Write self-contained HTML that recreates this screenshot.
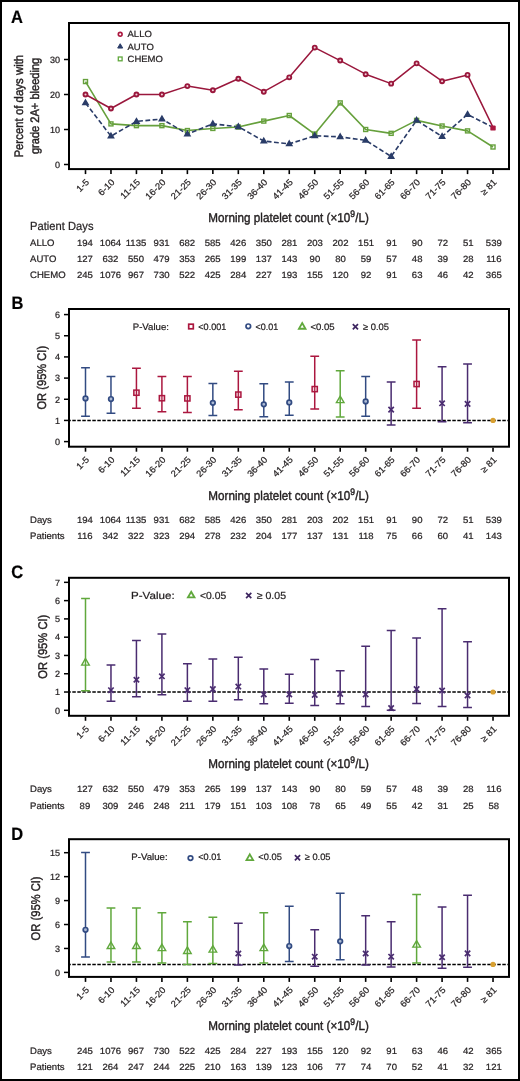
<!DOCTYPE html>
<html><head><meta charset="utf-8"><style>
html,body{margin:0;padding:0;background:#fff;}
body{width:520px;height:1081px;overflow:hidden;position:relative;}
svg{position:absolute;left:0;top:0;font-family:"Liberation Sans", sans-serif;will-change:transform;}
text{stroke:#231f20;stroke-width:0.22px;}
</style></head><body>
<svg width="520" height="1081" viewBox="0 0 520 1081">
<rect x="0" y="0" width="520" height="1081" fill="#fff"/>
<text x="0" y="0" transform="translate(11.0 23.2) skewX(0.3) scale(0.92 1)" font-size="18" font-weight="bold" fill="#000">A</text>
<rect x="69.0" y="23" width="440.0" height="146.1" fill="none" stroke="#000" stroke-width="2"/>
<line x1="64.0" y1="164.50" x2="69.0" y2="164.50" stroke="#000" stroke-width="1.5"/>
<text x="0" y="0" transform="translate(60.00 167.75) skewX(0.3) scale(1.0 1)" font-size="9.1" text-anchor="end" fill="#231f20" font-weight="normal" >0</text>
<line x1="64.0" y1="129.50" x2="69.0" y2="129.50" stroke="#000" stroke-width="1.5"/>
<text x="0" y="0" transform="translate(60.00 132.75) skewX(0.3) scale(1.0 1)" font-size="9.1" text-anchor="end" fill="#231f20" font-weight="normal" >10</text>
<line x1="64.0" y1="94.50" x2="69.0" y2="94.50" stroke="#000" stroke-width="1.5"/>
<text x="0" y="0" transform="translate(60.00 97.75) skewX(0.3) scale(1.0 1)" font-size="9.1" text-anchor="end" fill="#231f20" font-weight="normal" >20</text>
<line x1="64.0" y1="59.50" x2="69.0" y2="59.50" stroke="#000" stroke-width="1.5"/>
<text x="0" y="0" transform="translate(60.00 62.75) skewX(0.3) scale(1.0 1)" font-size="9.1" text-anchor="end" fill="#231f20" font-weight="normal" >30</text>
<line x1="85.50" y1="170.1" x2="85.50" y2="174.1" stroke="#000" stroke-width="1.6"/>
<line x1="110.97" y1="170.1" x2="110.97" y2="174.1" stroke="#000" stroke-width="1.6"/>
<line x1="136.44" y1="170.1" x2="136.44" y2="174.1" stroke="#000" stroke-width="1.6"/>
<line x1="161.91" y1="170.1" x2="161.91" y2="174.1" stroke="#000" stroke-width="1.6"/>
<line x1="187.38" y1="170.1" x2="187.38" y2="174.1" stroke="#000" stroke-width="1.6"/>
<line x1="212.85" y1="170.1" x2="212.85" y2="174.1" stroke="#000" stroke-width="1.6"/>
<line x1="238.32" y1="170.1" x2="238.32" y2="174.1" stroke="#000" stroke-width="1.6"/>
<line x1="263.79" y1="170.1" x2="263.79" y2="174.1" stroke="#000" stroke-width="1.6"/>
<line x1="289.26" y1="170.1" x2="289.26" y2="174.1" stroke="#000" stroke-width="1.6"/>
<line x1="314.73" y1="170.1" x2="314.73" y2="174.1" stroke="#000" stroke-width="1.6"/>
<line x1="340.20" y1="170.1" x2="340.20" y2="174.1" stroke="#000" stroke-width="1.6"/>
<line x1="365.67" y1="170.1" x2="365.67" y2="174.1" stroke="#000" stroke-width="1.6"/>
<line x1="391.14" y1="170.1" x2="391.14" y2="174.1" stroke="#000" stroke-width="1.6"/>
<line x1="416.61" y1="170.1" x2="416.61" y2="174.1" stroke="#000" stroke-width="1.6"/>
<line x1="442.08" y1="170.1" x2="442.08" y2="174.1" stroke="#000" stroke-width="1.6"/>
<line x1="467.55" y1="170.1" x2="467.55" y2="174.1" stroke="#000" stroke-width="1.6"/>
<line x1="493.02" y1="170.1" x2="493.02" y2="174.1" stroke="#000" stroke-width="1.6"/>
<text x="0" y="0" font-size="9.1" text-anchor="end" fill="#231f20" transform="translate(89.70 182.80) rotate(-45) scale(1.04 1)">1-5</text>
<text x="0" y="0" font-size="9.1" text-anchor="end" fill="#231f20" transform="translate(115.17 182.80) rotate(-45) scale(1.04 1)">6-10</text>
<text x="0" y="0" font-size="9.1" text-anchor="end" fill="#231f20" transform="translate(140.64 182.80) rotate(-45) scale(1.04 1)">11-15</text>
<text x="0" y="0" font-size="9.1" text-anchor="end" fill="#231f20" transform="translate(166.11 182.80) rotate(-45) scale(1.04 1)">16-20</text>
<text x="0" y="0" font-size="9.1" text-anchor="end" fill="#231f20" transform="translate(191.58 182.80) rotate(-45) scale(1.04 1)">21-25</text>
<text x="0" y="0" font-size="9.1" text-anchor="end" fill="#231f20" transform="translate(217.05 182.80) rotate(-45) scale(1.04 1)">26-30</text>
<text x="0" y="0" font-size="9.1" text-anchor="end" fill="#231f20" transform="translate(242.52 182.80) rotate(-45) scale(1.04 1)">31-35</text>
<text x="0" y="0" font-size="9.1" text-anchor="end" fill="#231f20" transform="translate(267.99 182.80) rotate(-45) scale(1.04 1)">36-40</text>
<text x="0" y="0" font-size="9.1" text-anchor="end" fill="#231f20" transform="translate(293.46 182.80) rotate(-45) scale(1.04 1)">41-45</text>
<text x="0" y="0" font-size="9.1" text-anchor="end" fill="#231f20" transform="translate(318.93 182.80) rotate(-45) scale(1.04 1)">46-50</text>
<text x="0" y="0" font-size="9.1" text-anchor="end" fill="#231f20" transform="translate(344.40 182.80) rotate(-45) scale(1.04 1)">51-55</text>
<text x="0" y="0" font-size="9.1" text-anchor="end" fill="#231f20" transform="translate(369.87 182.80) rotate(-45) scale(1.04 1)">56-60</text>
<text x="0" y="0" font-size="9.1" text-anchor="end" fill="#231f20" transform="translate(395.34 182.80) rotate(-45) scale(1.04 1)">61-65</text>
<text x="0" y="0" font-size="9.1" text-anchor="end" fill="#231f20" transform="translate(420.81 182.80) rotate(-45) scale(1.04 1)">66-70</text>
<text x="0" y="0" font-size="9.1" text-anchor="end" fill="#231f20" transform="translate(446.28 182.80) rotate(-45) scale(1.04 1)">71-75</text>
<text x="0" y="0" font-size="9.1" text-anchor="end" fill="#231f20" transform="translate(471.75 182.80) rotate(-45) scale(1.04 1)">76-80</text>
<text x="0" y="0" font-size="9.1" text-anchor="end" fill="#231f20" transform="translate(497.22 182.80) rotate(-45) scale(1.04 1)">≥ 81</text>
<text style="stroke-width:0.42px" font-size="12.4" fill="#231f20" text-anchor="middle" transform="translate(23.0 106.2) rotate(-90) skewX(0.3)" x="0" y="0" textLength="102.8" lengthAdjust="spacingAndGlyphs">Percent of days with</text>
<text style="stroke-width:0.42px" font-size="12.4" fill="#231f20" text-anchor="middle" transform="translate(38.5 105.9) rotate(-90) skewX(0.3)" x="0" y="0" textLength="96.3" lengthAdjust="spacingAndGlyphs">grade 2A+ bleeding</text>
<polyline points="85.50,81.55 110.97,123.90 136.44,125.65 161.91,125.65 187.38,130.55 212.85,128.45 238.32,127.05 263.79,121.10 289.26,115.50 314.73,134.05 340.20,102.90 365.67,129.50 391.14,133.35 416.61,120.40 442.08,126.00 467.55,130.90 493.02,147.00" fill="none" stroke="#66a03c" stroke-width="1.6" stroke-linejoin="round"/>
<polyline points="85.50,102.90 110.97,136.15 136.44,121.45 161.91,119.00 187.38,134.05 212.85,123.90 238.32,126.70 263.79,141.05 289.26,143.85 314.73,135.80 340.20,136.85 365.67,140.35 391.14,156.45 416.61,120.40 442.08,136.50 467.55,114.45 493.02,127.40" fill="none" stroke="#2a3c68" stroke-width="1.6" stroke-dasharray="4.8 2.5" stroke-linejoin="round"/>
<polyline points="85.50,94.50 110.97,108.50 136.44,94.50 161.91,94.50 187.38,86.10 212.85,90.30 238.32,78.75 263.79,91.70 289.26,77.35 314.73,47.60 340.20,60.55 365.67,74.20 391.14,83.65 416.61,63.35 442.08,81.20 467.55,74.90 493.02,127.40" fill="none" stroke="#9a173c" stroke-width="1.5" stroke-linejoin="round"/>
<rect x="83.50" y="79.55" width="4.0" height="4.0" fill="none" stroke="#66a03c" stroke-width="1.4"/>
<rect x="108.97" y="121.90" width="4.0" height="4.0" fill="none" stroke="#66a03c" stroke-width="1.4"/>
<rect x="134.44" y="123.65" width="4.0" height="4.0" fill="none" stroke="#66a03c" stroke-width="1.4"/>
<rect x="159.91" y="123.65" width="4.0" height="4.0" fill="none" stroke="#66a03c" stroke-width="1.4"/>
<rect x="185.38" y="128.55" width="4.0" height="4.0" fill="none" stroke="#66a03c" stroke-width="1.4"/>
<rect x="210.85" y="126.45" width="4.0" height="4.0" fill="none" stroke="#66a03c" stroke-width="1.4"/>
<rect x="236.32" y="125.05" width="4.0" height="4.0" fill="none" stroke="#66a03c" stroke-width="1.4"/>
<rect x="261.79" y="119.10" width="4.0" height="4.0" fill="none" stroke="#66a03c" stroke-width="1.4"/>
<rect x="287.26" y="113.50" width="4.0" height="4.0" fill="none" stroke="#66a03c" stroke-width="1.4"/>
<rect x="312.73" y="132.05" width="4.0" height="4.0" fill="none" stroke="#66a03c" stroke-width="1.4"/>
<rect x="338.20" y="100.90" width="4.0" height="4.0" fill="none" stroke="#66a03c" stroke-width="1.4"/>
<rect x="363.67" y="127.50" width="4.0" height="4.0" fill="none" stroke="#66a03c" stroke-width="1.4"/>
<rect x="389.14" y="131.35" width="4.0" height="4.0" fill="none" stroke="#66a03c" stroke-width="1.4"/>
<rect x="414.61" y="118.40" width="4.0" height="4.0" fill="none" stroke="#66a03c" stroke-width="1.4"/>
<rect x="440.08" y="124.00" width="4.0" height="4.0" fill="none" stroke="#66a03c" stroke-width="1.4"/>
<rect x="465.55" y="128.90" width="4.0" height="4.0" fill="none" stroke="#66a03c" stroke-width="1.4"/>
<rect x="491.02" y="145.00" width="4.0" height="4.0" fill="none" stroke="#66a03c" stroke-width="1.4"/>
<path d="M85.50,100.11 L88.10,104.61 L82.90,104.61 Z" fill="#2a3c68" stroke="#2a3c68" stroke-width="1.5" stroke-linejoin="miter"/>
<path d="M110.97,133.36 L113.57,137.86 L108.37,137.86 Z" fill="#2a3c68" stroke="#2a3c68" stroke-width="1.5" stroke-linejoin="miter"/>
<path d="M136.44,118.66 L139.04,123.16 L133.84,123.16 Z" fill="#2a3c68" stroke="#2a3c68" stroke-width="1.5" stroke-linejoin="miter"/>
<path d="M161.91,116.21 L164.51,120.71 L159.31,120.71 Z" fill="#2a3c68" stroke="#2a3c68" stroke-width="1.5" stroke-linejoin="miter"/>
<path d="M187.38,131.26 L189.98,135.76 L184.78,135.76 Z" fill="#2a3c68" stroke="#2a3c68" stroke-width="1.5" stroke-linejoin="miter"/>
<path d="M212.85,121.11 L215.45,125.61 L210.25,125.61 Z" fill="#2a3c68" stroke="#2a3c68" stroke-width="1.5" stroke-linejoin="miter"/>
<path d="M238.32,123.91 L240.92,128.41 L235.72,128.41 Z" fill="#2a3c68" stroke="#2a3c68" stroke-width="1.5" stroke-linejoin="miter"/>
<path d="M263.79,138.26 L266.39,142.76 L261.19,142.76 Z" fill="#2a3c68" stroke="#2a3c68" stroke-width="1.5" stroke-linejoin="miter"/>
<path d="M289.26,141.06 L291.86,145.56 L286.66,145.56 Z" fill="#2a3c68" stroke="#2a3c68" stroke-width="1.5" stroke-linejoin="miter"/>
<path d="M314.73,133.01 L317.33,137.51 L312.13,137.51 Z" fill="#2a3c68" stroke="#2a3c68" stroke-width="1.5" stroke-linejoin="miter"/>
<path d="M340.20,134.06 L342.80,138.56 L337.60,138.56 Z" fill="#2a3c68" stroke="#2a3c68" stroke-width="1.5" stroke-linejoin="miter"/>
<path d="M365.67,137.56 L368.27,142.06 L363.07,142.06 Z" fill="#2a3c68" stroke="#2a3c68" stroke-width="1.5" stroke-linejoin="miter"/>
<path d="M391.14,153.66 L393.74,158.16 L388.54,158.16 Z" fill="#2a3c68" stroke="#2a3c68" stroke-width="1.5" stroke-linejoin="miter"/>
<path d="M416.61,117.61 L419.21,122.11 L414.01,122.11 Z" fill="#2a3c68" stroke="#2a3c68" stroke-width="1.5" stroke-linejoin="miter"/>
<path d="M442.08,133.71 L444.68,138.21 L439.48,138.21 Z" fill="#2a3c68" stroke="#2a3c68" stroke-width="1.5" stroke-linejoin="miter"/>
<path d="M467.55,111.66 L470.15,116.16 L464.95,116.16 Z" fill="#2a3c68" stroke="#2a3c68" stroke-width="1.5" stroke-linejoin="miter"/>
<circle cx="85.50" cy="94.50" r="2.0" fill="#f0d0d8" stroke="#9a173c" stroke-width="1.9"/>
<circle cx="110.97" cy="108.50" r="2.0" fill="#f0d0d8" stroke="#9a173c" stroke-width="1.9"/>
<circle cx="136.44" cy="94.50" r="2.0" fill="#f0d0d8" stroke="#9a173c" stroke-width="1.9"/>
<circle cx="161.91" cy="94.50" r="2.0" fill="#f0d0d8" stroke="#9a173c" stroke-width="1.9"/>
<circle cx="187.38" cy="86.10" r="2.0" fill="#f0d0d8" stroke="#9a173c" stroke-width="1.9"/>
<circle cx="212.85" cy="90.30" r="2.0" fill="#f0d0d8" stroke="#9a173c" stroke-width="1.9"/>
<circle cx="238.32" cy="78.75" r="2.0" fill="#f0d0d8" stroke="#9a173c" stroke-width="1.9"/>
<circle cx="263.79" cy="91.70" r="2.0" fill="#f0d0d8" stroke="#9a173c" stroke-width="1.9"/>
<circle cx="289.26" cy="77.35" r="2.0" fill="#f0d0d8" stroke="#9a173c" stroke-width="1.9"/>
<circle cx="314.73" cy="47.60" r="2.0" fill="#f0d0d8" stroke="#9a173c" stroke-width="1.9"/>
<circle cx="340.20" cy="60.55" r="2.0" fill="#f0d0d8" stroke="#9a173c" stroke-width="1.9"/>
<circle cx="365.67" cy="74.20" r="2.0" fill="#f0d0d8" stroke="#9a173c" stroke-width="1.9"/>
<circle cx="391.14" cy="83.65" r="2.0" fill="#f0d0d8" stroke="#9a173c" stroke-width="1.9"/>
<circle cx="416.61" cy="63.35" r="2.0" fill="#f0d0d8" stroke="#9a173c" stroke-width="1.9"/>
<circle cx="442.08" cy="81.20" r="2.0" fill="#f0d0d8" stroke="#9a173c" stroke-width="1.9"/>
<circle cx="467.55" cy="74.90" r="2.0" fill="#f0d0d8" stroke="#9a173c" stroke-width="1.9"/>
<rect x="490.32" y="125.40" width="5.4" height="5.2" rx="1.2" fill="#ab173f"/>
<circle cx="120.20" cy="34.30" r="1.9" fill="none" stroke="#ab173f" stroke-width="1.6"/>
<path d="M120.20,43.72 L122.70,48.05 L117.70,48.05 Z" fill="#2a3c68" stroke="#2a3c68" stroke-width="1.0" stroke-linejoin="miter"/>
<rect x="118.30" y="57.00" width="3.8" height="3.8" fill="none" stroke="#60a83c" stroke-width="1.3"/>
<text x="0" y="0" transform="translate(127.50 37.30) skewX(0.3) scale(1.06 1)" font-size="9.0" text-anchor="start" fill="#231f20" font-weight="normal" >ALLO</text>
<text x="0" y="0" transform="translate(127.50 49.70) skewX(0.3) scale(1.06 1)" font-size="9.0" text-anchor="start" fill="#231f20" font-weight="normal" >AUTO</text>
<text x="0" y="0" transform="translate(127.50 62.30) skewX(0.3) scale(1.06 1)" font-size="9.0" text-anchor="start" fill="#231f20" font-weight="normal" >CHEMO</text>
<text x="0" y="0" transform="translate(208.3 222.20) skewX(0.3)" style="stroke-width:0.42px" font-size="12.9" fill="#231f20" textLength="160.5" lengthAdjust="spacingAndGlyphs">Morning platelet count (×10<tspan font-size="9.5" dy="-5">9</tspan><tspan dy="5">/L)</tspan></text>
<text x="0" y="0" transform="translate(30.00 230.20) skewX(0.3) scale(0.95 1)" font-size="11.8" text-anchor="start" fill="#231f20" font-weight="normal" >Patient Days</text>
<text x="0" y="0" transform="translate(30.00 246.20) skewX(0.3) scale(1.02 1)" font-size="9.4" text-anchor="start" fill="#231f20" font-weight="normal" >ALLO</text>
<text x="0" y="0" transform="translate(84.90 246.20) skewX(0.3) scale(1.065 1)" font-size="9.0" text-anchor="middle" fill="#231f20" font-weight="normal" >194</text>
<text x="0" y="0" transform="translate(110.46 246.20) skewX(0.3) scale(1.065 1)" font-size="9.0" text-anchor="middle" fill="#231f20" font-weight="normal" >1064</text>
<text x="0" y="0" transform="translate(136.02 246.20) skewX(0.3) scale(1.065 1)" font-size="9.0" text-anchor="middle" fill="#231f20" font-weight="normal" >1135</text>
<text x="0" y="0" transform="translate(161.58 246.20) skewX(0.3) scale(1.065 1)" font-size="9.0" text-anchor="middle" fill="#231f20" font-weight="normal" >931</text>
<text x="0" y="0" transform="translate(187.14 246.20) skewX(0.3) scale(1.065 1)" font-size="9.0" text-anchor="middle" fill="#231f20" font-weight="normal" >682</text>
<text x="0" y="0" transform="translate(212.70 246.20) skewX(0.3) scale(1.065 1)" font-size="9.0" text-anchor="middle" fill="#231f20" font-weight="normal" >585</text>
<text x="0" y="0" transform="translate(238.26 246.20) skewX(0.3) scale(1.065 1)" font-size="9.0" text-anchor="middle" fill="#231f20" font-weight="normal" >426</text>
<text x="0" y="0" transform="translate(263.82 246.20) skewX(0.3) scale(1.065 1)" font-size="9.0" text-anchor="middle" fill="#231f20" font-weight="normal" >350</text>
<text x="0" y="0" transform="translate(289.38 246.20) skewX(0.3) scale(1.065 1)" font-size="9.0" text-anchor="middle" fill="#231f20" font-weight="normal" >281</text>
<text x="0" y="0" transform="translate(314.94 246.20) skewX(0.3) scale(1.065 1)" font-size="9.0" text-anchor="middle" fill="#231f20" font-weight="normal" >203</text>
<text x="0" y="0" transform="translate(340.50 246.20) skewX(0.3) scale(1.065 1)" font-size="9.0" text-anchor="middle" fill="#231f20" font-weight="normal" >202</text>
<text x="0" y="0" transform="translate(366.06 246.20) skewX(0.3) scale(1.065 1)" font-size="9.0" text-anchor="middle" fill="#231f20" font-weight="normal" >151</text>
<text x="0" y="0" transform="translate(391.62 246.20) skewX(0.3) scale(1.065 1)" font-size="9.0" text-anchor="middle" fill="#231f20" font-weight="normal" >91</text>
<text x="0" y="0" transform="translate(417.18 246.20) skewX(0.3) scale(1.065 1)" font-size="9.0" text-anchor="middle" fill="#231f20" font-weight="normal" >90</text>
<text x="0" y="0" transform="translate(442.74 246.20) skewX(0.3) scale(1.065 1)" font-size="9.0" text-anchor="middle" fill="#231f20" font-weight="normal" >72</text>
<text x="0" y="0" transform="translate(468.30 246.20) skewX(0.3) scale(1.065 1)" font-size="9.0" text-anchor="middle" fill="#231f20" font-weight="normal" >51</text>
<text x="0" y="0" transform="translate(493.86 246.20) skewX(0.3) scale(1.065 1)" font-size="9.0" text-anchor="middle" fill="#231f20" font-weight="normal" >539</text>
<text x="0" y="0" transform="translate(30.00 262.10) skewX(0.3) scale(1.02 1)" font-size="9.4" text-anchor="start" fill="#231f20" font-weight="normal" >AUTO</text>
<text x="0" y="0" transform="translate(84.90 262.10) skewX(0.3) scale(1.065 1)" font-size="9.0" text-anchor="middle" fill="#231f20" font-weight="normal" >127</text>
<text x="0" y="0" transform="translate(110.46 262.10) skewX(0.3) scale(1.065 1)" font-size="9.0" text-anchor="middle" fill="#231f20" font-weight="normal" >632</text>
<text x="0" y="0" transform="translate(136.02 262.10) skewX(0.3) scale(1.065 1)" font-size="9.0" text-anchor="middle" fill="#231f20" font-weight="normal" >550</text>
<text x="0" y="0" transform="translate(161.58 262.10) skewX(0.3) scale(1.065 1)" font-size="9.0" text-anchor="middle" fill="#231f20" font-weight="normal" >479</text>
<text x="0" y="0" transform="translate(187.14 262.10) skewX(0.3) scale(1.065 1)" font-size="9.0" text-anchor="middle" fill="#231f20" font-weight="normal" >353</text>
<text x="0" y="0" transform="translate(212.70 262.10) skewX(0.3) scale(1.065 1)" font-size="9.0" text-anchor="middle" fill="#231f20" font-weight="normal" >265</text>
<text x="0" y="0" transform="translate(238.26 262.10) skewX(0.3) scale(1.065 1)" font-size="9.0" text-anchor="middle" fill="#231f20" font-weight="normal" >199</text>
<text x="0" y="0" transform="translate(263.82 262.10) skewX(0.3) scale(1.065 1)" font-size="9.0" text-anchor="middle" fill="#231f20" font-weight="normal" >137</text>
<text x="0" y="0" transform="translate(289.38 262.10) skewX(0.3) scale(1.065 1)" font-size="9.0" text-anchor="middle" fill="#231f20" font-weight="normal" >143</text>
<text x="0" y="0" transform="translate(314.94 262.10) skewX(0.3) scale(1.065 1)" font-size="9.0" text-anchor="middle" fill="#231f20" font-weight="normal" >90</text>
<text x="0" y="0" transform="translate(340.50 262.10) skewX(0.3) scale(1.065 1)" font-size="9.0" text-anchor="middle" fill="#231f20" font-weight="normal" >80</text>
<text x="0" y="0" transform="translate(366.06 262.10) skewX(0.3) scale(1.065 1)" font-size="9.0" text-anchor="middle" fill="#231f20" font-weight="normal" >59</text>
<text x="0" y="0" transform="translate(391.62 262.10) skewX(0.3) scale(1.065 1)" font-size="9.0" text-anchor="middle" fill="#231f20" font-weight="normal" >57</text>
<text x="0" y="0" transform="translate(417.18 262.10) skewX(0.3) scale(1.065 1)" font-size="9.0" text-anchor="middle" fill="#231f20" font-weight="normal" >48</text>
<text x="0" y="0" transform="translate(442.74 262.10) skewX(0.3) scale(1.065 1)" font-size="9.0" text-anchor="middle" fill="#231f20" font-weight="normal" >39</text>
<text x="0" y="0" transform="translate(468.30 262.10) skewX(0.3) scale(1.065 1)" font-size="9.0" text-anchor="middle" fill="#231f20" font-weight="normal" >28</text>
<text x="0" y="0" transform="translate(493.86 262.10) skewX(0.3) scale(1.065 1)" font-size="9.0" text-anchor="middle" fill="#231f20" font-weight="normal" >116</text>
<text x="0" y="0" transform="translate(30.00 277.90) skewX(0.3) scale(1.02 1)" font-size="9.4" text-anchor="start" fill="#231f20" font-weight="normal" >CHEMO</text>
<text x="0" y="0" transform="translate(84.90 277.90) skewX(0.3) scale(1.065 1)" font-size="9.0" text-anchor="middle" fill="#231f20" font-weight="normal" >245</text>
<text x="0" y="0" transform="translate(110.46 277.90) skewX(0.3) scale(1.065 1)" font-size="9.0" text-anchor="middle" fill="#231f20" font-weight="normal" >1076</text>
<text x="0" y="0" transform="translate(136.02 277.90) skewX(0.3) scale(1.065 1)" font-size="9.0" text-anchor="middle" fill="#231f20" font-weight="normal" >967</text>
<text x="0" y="0" transform="translate(161.58 277.90) skewX(0.3) scale(1.065 1)" font-size="9.0" text-anchor="middle" fill="#231f20" font-weight="normal" >730</text>
<text x="0" y="0" transform="translate(187.14 277.90) skewX(0.3) scale(1.065 1)" font-size="9.0" text-anchor="middle" fill="#231f20" font-weight="normal" >522</text>
<text x="0" y="0" transform="translate(212.70 277.90) skewX(0.3) scale(1.065 1)" font-size="9.0" text-anchor="middle" fill="#231f20" font-weight="normal" >425</text>
<text x="0" y="0" transform="translate(238.26 277.90) skewX(0.3) scale(1.065 1)" font-size="9.0" text-anchor="middle" fill="#231f20" font-weight="normal" >284</text>
<text x="0" y="0" transform="translate(263.82 277.90) skewX(0.3) scale(1.065 1)" font-size="9.0" text-anchor="middle" fill="#231f20" font-weight="normal" >227</text>
<text x="0" y="0" transform="translate(289.38 277.90) skewX(0.3) scale(1.065 1)" font-size="9.0" text-anchor="middle" fill="#231f20" font-weight="normal" >193</text>
<text x="0" y="0" transform="translate(314.94 277.90) skewX(0.3) scale(1.065 1)" font-size="9.0" text-anchor="middle" fill="#231f20" font-weight="normal" >155</text>
<text x="0" y="0" transform="translate(340.50 277.90) skewX(0.3) scale(1.065 1)" font-size="9.0" text-anchor="middle" fill="#231f20" font-weight="normal" >120</text>
<text x="0" y="0" transform="translate(366.06 277.90) skewX(0.3) scale(1.065 1)" font-size="9.0" text-anchor="middle" fill="#231f20" font-weight="normal" >92</text>
<text x="0" y="0" transform="translate(391.62 277.90) skewX(0.3) scale(1.065 1)" font-size="9.0" text-anchor="middle" fill="#231f20" font-weight="normal" >91</text>
<text x="0" y="0" transform="translate(417.18 277.90) skewX(0.3) scale(1.065 1)" font-size="9.0" text-anchor="middle" fill="#231f20" font-weight="normal" >63</text>
<text x="0" y="0" transform="translate(442.74 277.90) skewX(0.3) scale(1.065 1)" font-size="9.0" text-anchor="middle" fill="#231f20" font-weight="normal" >46</text>
<text x="0" y="0" transform="translate(468.30 277.90) skewX(0.3) scale(1.065 1)" font-size="9.0" text-anchor="middle" fill="#231f20" font-weight="normal" >42</text>
<text x="0" y="0" transform="translate(493.86 277.90) skewX(0.3) scale(1.065 1)" font-size="9.0" text-anchor="middle" fill="#231f20" font-weight="normal" >365</text>
<text x="0" y="0" transform="translate(11.6 309.3) skewX(0.3) scale(0.92 1)" font-size="18" font-weight="bold" fill="#000">B</text>
<rect x="69.0" y="309" width="440.0" height="137.7" fill="none" stroke="#000" stroke-width="2"/>
<line x1="64.0" y1="441.60" x2="69.0" y2="441.60" stroke="#000" stroke-width="1.5"/>
<text x="0" y="0" transform="translate(60.00 444.85) skewX(0.3) scale(1.0 1)" font-size="9.1" text-anchor="end" fill="#231f20" font-weight="normal" >0</text>
<line x1="64.0" y1="420.43" x2="69.0" y2="420.43" stroke="#000" stroke-width="1.5"/>
<text x="0" y="0" transform="translate(60.00 423.68) skewX(0.3) scale(1.0 1)" font-size="9.1" text-anchor="end" fill="#231f20" font-weight="normal" >1</text>
<line x1="64.0" y1="399.26" x2="69.0" y2="399.26" stroke="#000" stroke-width="1.5"/>
<text x="0" y="0" transform="translate(60.00 402.51) skewX(0.3) scale(1.0 1)" font-size="9.1" text-anchor="end" fill="#231f20" font-weight="normal" >2</text>
<line x1="64.0" y1="378.09" x2="69.0" y2="378.09" stroke="#000" stroke-width="1.5"/>
<text x="0" y="0" transform="translate(60.00 381.34) skewX(0.3) scale(1.0 1)" font-size="9.1" text-anchor="end" fill="#231f20" font-weight="normal" >3</text>
<line x1="64.0" y1="356.92" x2="69.0" y2="356.92" stroke="#000" stroke-width="1.5"/>
<text x="0" y="0" transform="translate(60.00 360.17) skewX(0.3) scale(1.0 1)" font-size="9.1" text-anchor="end" fill="#231f20" font-weight="normal" >4</text>
<line x1="64.0" y1="335.75" x2="69.0" y2="335.75" stroke="#000" stroke-width="1.5"/>
<text x="0" y="0" transform="translate(60.00 339.00) skewX(0.3) scale(1.0 1)" font-size="9.1" text-anchor="end" fill="#231f20" font-weight="normal" >5</text>
<line x1="64.0" y1="314.58" x2="69.0" y2="314.58" stroke="#000" stroke-width="1.5"/>
<text x="0" y="0" transform="translate(60.00 317.83) skewX(0.3) scale(1.0 1)" font-size="9.1" text-anchor="end" fill="#231f20" font-weight="normal" >6</text>
<line x1="85.50" y1="447.7" x2="85.50" y2="451.7" stroke="#000" stroke-width="1.6"/>
<line x1="110.97" y1="447.7" x2="110.97" y2="451.7" stroke="#000" stroke-width="1.6"/>
<line x1="136.44" y1="447.7" x2="136.44" y2="451.7" stroke="#000" stroke-width="1.6"/>
<line x1="161.91" y1="447.7" x2="161.91" y2="451.7" stroke="#000" stroke-width="1.6"/>
<line x1="187.38" y1="447.7" x2="187.38" y2="451.7" stroke="#000" stroke-width="1.6"/>
<line x1="212.85" y1="447.7" x2="212.85" y2="451.7" stroke="#000" stroke-width="1.6"/>
<line x1="238.32" y1="447.7" x2="238.32" y2="451.7" stroke="#000" stroke-width="1.6"/>
<line x1="263.79" y1="447.7" x2="263.79" y2="451.7" stroke="#000" stroke-width="1.6"/>
<line x1="289.26" y1="447.7" x2="289.26" y2="451.7" stroke="#000" stroke-width="1.6"/>
<line x1="314.73" y1="447.7" x2="314.73" y2="451.7" stroke="#000" stroke-width="1.6"/>
<line x1="340.20" y1="447.7" x2="340.20" y2="451.7" stroke="#000" stroke-width="1.6"/>
<line x1="365.67" y1="447.7" x2="365.67" y2="451.7" stroke="#000" stroke-width="1.6"/>
<line x1="391.14" y1="447.7" x2="391.14" y2="451.7" stroke="#000" stroke-width="1.6"/>
<line x1="416.61" y1="447.7" x2="416.61" y2="451.7" stroke="#000" stroke-width="1.6"/>
<line x1="442.08" y1="447.7" x2="442.08" y2="451.7" stroke="#000" stroke-width="1.6"/>
<line x1="467.55" y1="447.7" x2="467.55" y2="451.7" stroke="#000" stroke-width="1.6"/>
<line x1="493.02" y1="447.7" x2="493.02" y2="451.7" stroke="#000" stroke-width="1.6"/>
<text x="0" y="0" font-size="9.1" text-anchor="end" fill="#231f20" transform="translate(89.70 460.40) rotate(-45) scale(1.04 1)">1-5</text>
<text x="0" y="0" font-size="9.1" text-anchor="end" fill="#231f20" transform="translate(115.17 460.40) rotate(-45) scale(1.04 1)">6-10</text>
<text x="0" y="0" font-size="9.1" text-anchor="end" fill="#231f20" transform="translate(140.64 460.40) rotate(-45) scale(1.04 1)">11-15</text>
<text x="0" y="0" font-size="9.1" text-anchor="end" fill="#231f20" transform="translate(166.11 460.40) rotate(-45) scale(1.04 1)">16-20</text>
<text x="0" y="0" font-size="9.1" text-anchor="end" fill="#231f20" transform="translate(191.58 460.40) rotate(-45) scale(1.04 1)">21-25</text>
<text x="0" y="0" font-size="9.1" text-anchor="end" fill="#231f20" transform="translate(217.05 460.40) rotate(-45) scale(1.04 1)">26-30</text>
<text x="0" y="0" font-size="9.1" text-anchor="end" fill="#231f20" transform="translate(242.52 460.40) rotate(-45) scale(1.04 1)">31-35</text>
<text x="0" y="0" font-size="9.1" text-anchor="end" fill="#231f20" transform="translate(267.99 460.40) rotate(-45) scale(1.04 1)">36-40</text>
<text x="0" y="0" font-size="9.1" text-anchor="end" fill="#231f20" transform="translate(293.46 460.40) rotate(-45) scale(1.04 1)">41-45</text>
<text x="0" y="0" font-size="9.1" text-anchor="end" fill="#231f20" transform="translate(318.93 460.40) rotate(-45) scale(1.04 1)">46-50</text>
<text x="0" y="0" font-size="9.1" text-anchor="end" fill="#231f20" transform="translate(344.40 460.40) rotate(-45) scale(1.04 1)">51-55</text>
<text x="0" y="0" font-size="9.1" text-anchor="end" fill="#231f20" transform="translate(369.87 460.40) rotate(-45) scale(1.04 1)">56-60</text>
<text x="0" y="0" font-size="9.1" text-anchor="end" fill="#231f20" transform="translate(395.34 460.40) rotate(-45) scale(1.04 1)">61-65</text>
<text x="0" y="0" font-size="9.1" text-anchor="end" fill="#231f20" transform="translate(420.81 460.40) rotate(-45) scale(1.04 1)">66-70</text>
<text x="0" y="0" font-size="9.1" text-anchor="end" fill="#231f20" transform="translate(446.28 460.40) rotate(-45) scale(1.04 1)">71-75</text>
<text x="0" y="0" font-size="9.1" text-anchor="end" fill="#231f20" transform="translate(471.75 460.40) rotate(-45) scale(1.04 1)">76-80</text>
<text x="0" y="0" font-size="9.1" text-anchor="end" fill="#231f20" transform="translate(497.22 460.40) rotate(-45) scale(1.04 1)">≥ 81</text>
<text x="0" y="0" style="stroke-width:0.42px" font-size="12.6" text-anchor="middle" fill="#231f20" textLength="63.7" lengthAdjust="spacingAndGlyphs" transform="translate(45.80 377.70) rotate(-90) skewX(0.3)">OR (95% CI)</text>
<line x1="70.0" y1="420.43" x2="508.0" y2="420.43" stroke="#000" stroke-width="1.5" stroke-dasharray="3.5 1.5" stroke-dashoffset="2.7"/>
<path d="M85.50,367.72 V416.20 M81.10,367.72 H89.90 M81.10,416.20 H89.90" stroke="#324b82" stroke-width="1.5" fill="none"/>
<path d="M110.97,376.61 V413.23 M106.57,376.61 H115.37 M106.57,413.23 H115.37" stroke="#324b82" stroke-width="1.5" fill="none"/>
<path d="M136.44,368.14 V408.36 M132.04,368.14 H140.84 M132.04,408.36 H140.84" stroke="#ab173f" stroke-width="1.5" fill="none"/>
<path d="M161.91,376.61 V411.75 M157.51,376.61 H166.31 M157.51,411.75 H166.31" stroke="#ab173f" stroke-width="1.5" fill="none"/>
<path d="M187.38,376.61 V412.60 M182.98,376.61 H191.78 M182.98,412.60 H191.78" stroke="#ab173f" stroke-width="1.5" fill="none"/>
<path d="M212.85,383.59 V415.56 M208.45,383.59 H217.25 M208.45,415.56 H217.25" stroke="#324b82" stroke-width="1.5" fill="none"/>
<path d="M238.32,371.32 V409.85 M233.92,371.32 H242.72 M233.92,409.85 H242.72" stroke="#ab173f" stroke-width="1.5" fill="none"/>
<path d="M263.79,383.81 V416.83 M259.39,383.81 H268.19 M259.39,416.83 H268.19" stroke="#324b82" stroke-width="1.5" fill="none"/>
<path d="M289.26,382.11 V415.35 M284.86,382.11 H293.66 M284.86,415.35 H293.66" stroke="#324b82" stroke-width="1.5" fill="none"/>
<path d="M314.73,356.28 V409.00 M310.33,356.28 H319.13 M310.33,409.00 H319.13" stroke="#ab173f" stroke-width="1.5" fill="none"/>
<path d="M340.20,370.68 V417.04 M335.80,370.68 H344.60 M335.80,417.04 H344.60" stroke="#60a83c" stroke-width="1.5" fill="none"/>
<path d="M365.67,376.40 V416.20 M361.27,376.40 H370.07 M361.27,416.20 H370.07" stroke="#324b82" stroke-width="1.5" fill="none"/>
<path d="M391.14,382.11 V424.88 M386.74,382.11 H395.54 M386.74,424.88 H395.54" stroke="#4a2c70" stroke-width="1.5" fill="none"/>
<path d="M416.61,339.98 V408.15 M412.21,339.98 H421.01 M412.21,408.15 H421.01" stroke="#ab173f" stroke-width="1.5" fill="none"/>
<path d="M442.08,366.87 V421.70 M437.68,366.87 H446.48 M437.68,421.70 H446.48" stroke="#4a2c70" stroke-width="1.5" fill="none"/>
<path d="M467.55,364.12 V422.76 M463.15,364.12 H471.95 M463.15,422.76 H471.95" stroke="#4a2c70" stroke-width="1.5" fill="none"/>
<circle cx="85.50" cy="398.41" r="2.3" fill="#aebcd6" stroke="#324b82" stroke-width="1.7"/>
<circle cx="110.97" cy="399.05" r="2.3" fill="#aebcd6" stroke="#324b82" stroke-width="1.7"/>
<rect x="133.84" y="390.10" width="5.2" height="5.2" fill="#f3d9df" stroke="#ab173f" stroke-width="1.5"/>
<line x1="136.44" y1="390.10" x2="136.44" y2="395.30" stroke="#ab173f" stroke-width="1.2"/>
<rect x="159.31" y="395.60" width="5.2" height="5.2" fill="#f3d9df" stroke="#ab173f" stroke-width="1.5"/>
<line x1="161.91" y1="395.60" x2="161.91" y2="400.80" stroke="#ab173f" stroke-width="1.2"/>
<rect x="184.78" y="395.81" width="5.2" height="5.2" fill="#f3d9df" stroke="#ab173f" stroke-width="1.5"/>
<line x1="187.38" y1="395.81" x2="187.38" y2="401.01" stroke="#ab173f" stroke-width="1.2"/>
<circle cx="212.85" cy="402.86" r="2.3" fill="#aebcd6" stroke="#324b82" stroke-width="1.7"/>
<rect x="235.72" y="392.00" width="5.2" height="5.2" fill="#f3d9df" stroke="#ab173f" stroke-width="1.5"/>
<line x1="238.32" y1="392.00" x2="238.32" y2="397.20" stroke="#ab173f" stroke-width="1.2"/>
<circle cx="263.79" cy="404.34" r="2.3" fill="#aebcd6" stroke="#324b82" stroke-width="1.7"/>
<circle cx="289.26" cy="402.44" r="2.3" fill="#aebcd6" stroke="#324b82" stroke-width="1.7"/>
<rect x="312.13" y="386.50" width="5.2" height="5.2" fill="#f3d9df" stroke="#ab173f" stroke-width="1.5"/>
<line x1="314.73" y1="386.50" x2="314.73" y2="391.70" stroke="#ab173f" stroke-width="1.2"/>
<path d="M340.20,396.03 L344.00,402.61 L336.40,402.61 Z" fill="none" stroke="#60a83c" stroke-width="1.4" stroke-linejoin="miter"/>
<circle cx="365.67" cy="401.38" r="2.3" fill="#aebcd6" stroke="#324b82" stroke-width="1.7"/>
<path d="M388.44,406.93 L393.84,412.33 M393.84,406.93 L388.44,412.33" stroke="#4a2c70" stroke-width="1.7"/>
<rect x="414.01" y="381.42" width="5.2" height="5.2" fill="#f3d9df" stroke="#ab173f" stroke-width="1.5"/>
<line x1="416.61" y1="381.42" x2="416.61" y2="386.62" stroke="#ab173f" stroke-width="1.2"/>
<path d="M439.38,400.58 L444.78,405.98 M444.78,400.58 L439.38,405.98" stroke="#4a2c70" stroke-width="1.7"/>
<path d="M464.85,401.22 L470.25,406.62 M470.25,401.22 L464.85,406.62" stroke="#4a2c70" stroke-width="1.7"/>
<circle cx="493.02" cy="420.43" r="2.6" fill="#d9a030"/>
<text x="0" y="0" transform="translate(132.70 329.70) skewX(0.3) scale(1.04 1)" font-size="9.3" text-anchor="start" fill="#231f20" font-weight="normal" >P-Value:</text>
<rect x="188.70" y="324.20" width="4.6" height="4.6" fill="none" stroke="#ab173f" stroke-width="1.7"/>
<text x="0" y="0" transform="translate(198.30 329.70) skewX(0.3) scale(0.98 1)" font-size="9.3" text-anchor="start" fill="#231f20" font-weight="normal" >&lt;0.001</text>
<circle cx="248.30" cy="326.30" r="2.3" fill="none" stroke="#324b82" stroke-width="1.7"/>
<text x="0" y="0" transform="translate(255.50 329.70) skewX(0.3) scale(0.97 1)" font-size="9.3" text-anchor="start" fill="#231f20" font-weight="normal" >&lt;0.01</text>
<path d="M302.20,323.06 L305.50,328.77 L298.90,328.77 Z" fill="none" stroke="#60a83c" stroke-width="1.8" stroke-linejoin="miter"/>
<text x="0" y="0" transform="translate(310.40 329.70) skewX(0.3) scale(1.03 1)" font-size="9.3" text-anchor="start" fill="#231f20" font-weight="normal" >&lt;0.05</text>
<path d="M352.80,324.20 L358.00,329.40 M358.00,324.20 L352.80,329.40" stroke="#3d2560" stroke-width="1.7"/>
<text x="0" y="0" transform="translate(363.00 329.70) skewX(0.3) scale(1.01 1)" font-size="9.3" text-anchor="start" fill="#231f20" font-weight="normal" >≥ 0.05</text>
<text x="0" y="0" transform="translate(208.3 499.60) skewX(0.3)" style="stroke-width:0.42px" font-size="12.9" fill="#231f20" textLength="160.5" lengthAdjust="spacingAndGlyphs">Morning platelet count (×10<tspan font-size="9.5" dy="-5">9</tspan><tspan dy="5">/L)</tspan></text>
<text x="0" y="0" transform="translate(30.00 522.90) skewX(0.3) scale(1.02 1)" font-size="9.4" text-anchor="start" fill="#231f20" font-weight="normal" >Days</text>
<text x="0" y="0" transform="translate(84.90 522.90) skewX(0.3) scale(1.065 1)" font-size="9.0" text-anchor="middle" fill="#231f20" font-weight="normal" >194</text>
<text x="0" y="0" transform="translate(110.46 522.90) skewX(0.3) scale(1.065 1)" font-size="9.0" text-anchor="middle" fill="#231f20" font-weight="normal" >1064</text>
<text x="0" y="0" transform="translate(136.02 522.90) skewX(0.3) scale(1.065 1)" font-size="9.0" text-anchor="middle" fill="#231f20" font-weight="normal" >1135</text>
<text x="0" y="0" transform="translate(161.58 522.90) skewX(0.3) scale(1.065 1)" font-size="9.0" text-anchor="middle" fill="#231f20" font-weight="normal" >931</text>
<text x="0" y="0" transform="translate(187.14 522.90) skewX(0.3) scale(1.065 1)" font-size="9.0" text-anchor="middle" fill="#231f20" font-weight="normal" >682</text>
<text x="0" y="0" transform="translate(212.70 522.90) skewX(0.3) scale(1.065 1)" font-size="9.0" text-anchor="middle" fill="#231f20" font-weight="normal" >585</text>
<text x="0" y="0" transform="translate(238.26 522.90) skewX(0.3) scale(1.065 1)" font-size="9.0" text-anchor="middle" fill="#231f20" font-weight="normal" >426</text>
<text x="0" y="0" transform="translate(263.82 522.90) skewX(0.3) scale(1.065 1)" font-size="9.0" text-anchor="middle" fill="#231f20" font-weight="normal" >350</text>
<text x="0" y="0" transform="translate(289.38 522.90) skewX(0.3) scale(1.065 1)" font-size="9.0" text-anchor="middle" fill="#231f20" font-weight="normal" >281</text>
<text x="0" y="0" transform="translate(314.94 522.90) skewX(0.3) scale(1.065 1)" font-size="9.0" text-anchor="middle" fill="#231f20" font-weight="normal" >203</text>
<text x="0" y="0" transform="translate(340.50 522.90) skewX(0.3) scale(1.065 1)" font-size="9.0" text-anchor="middle" fill="#231f20" font-weight="normal" >202</text>
<text x="0" y="0" transform="translate(366.06 522.90) skewX(0.3) scale(1.065 1)" font-size="9.0" text-anchor="middle" fill="#231f20" font-weight="normal" >151</text>
<text x="0" y="0" transform="translate(391.62 522.90) skewX(0.3) scale(1.065 1)" font-size="9.0" text-anchor="middle" fill="#231f20" font-weight="normal" >91</text>
<text x="0" y="0" transform="translate(417.18 522.90) skewX(0.3) scale(1.065 1)" font-size="9.0" text-anchor="middle" fill="#231f20" font-weight="normal" >90</text>
<text x="0" y="0" transform="translate(442.74 522.90) skewX(0.3) scale(1.065 1)" font-size="9.0" text-anchor="middle" fill="#231f20" font-weight="normal" >72</text>
<text x="0" y="0" transform="translate(468.30 522.90) skewX(0.3) scale(1.065 1)" font-size="9.0" text-anchor="middle" fill="#231f20" font-weight="normal" >51</text>
<text x="0" y="0" transform="translate(493.86 522.90) skewX(0.3) scale(1.065 1)" font-size="9.0" text-anchor="middle" fill="#231f20" font-weight="normal" >539</text>
<text x="0" y="0" transform="translate(30.00 539.30) skewX(0.3) scale(1.02 1)" font-size="9.4" text-anchor="start" fill="#231f20" font-weight="normal" >Patients</text>
<text x="0" y="0" transform="translate(84.90 539.30) skewX(0.3) scale(1.065 1)" font-size="9.0" text-anchor="middle" fill="#231f20" font-weight="normal" >116</text>
<text x="0" y="0" transform="translate(110.46 539.30) skewX(0.3) scale(1.065 1)" font-size="9.0" text-anchor="middle" fill="#231f20" font-weight="normal" >342</text>
<text x="0" y="0" transform="translate(136.02 539.30) skewX(0.3) scale(1.065 1)" font-size="9.0" text-anchor="middle" fill="#231f20" font-weight="normal" >322</text>
<text x="0" y="0" transform="translate(161.58 539.30) skewX(0.3) scale(1.065 1)" font-size="9.0" text-anchor="middle" fill="#231f20" font-weight="normal" >323</text>
<text x="0" y="0" transform="translate(187.14 539.30) skewX(0.3) scale(1.065 1)" font-size="9.0" text-anchor="middle" fill="#231f20" font-weight="normal" >294</text>
<text x="0" y="0" transform="translate(212.70 539.30) skewX(0.3) scale(1.065 1)" font-size="9.0" text-anchor="middle" fill="#231f20" font-weight="normal" >278</text>
<text x="0" y="0" transform="translate(238.26 539.30) skewX(0.3) scale(1.065 1)" font-size="9.0" text-anchor="middle" fill="#231f20" font-weight="normal" >232</text>
<text x="0" y="0" transform="translate(263.82 539.30) skewX(0.3) scale(1.065 1)" font-size="9.0" text-anchor="middle" fill="#231f20" font-weight="normal" >204</text>
<text x="0" y="0" transform="translate(289.38 539.30) skewX(0.3) scale(1.065 1)" font-size="9.0" text-anchor="middle" fill="#231f20" font-weight="normal" >177</text>
<text x="0" y="0" transform="translate(314.94 539.30) skewX(0.3) scale(1.065 1)" font-size="9.0" text-anchor="middle" fill="#231f20" font-weight="normal" >137</text>
<text x="0" y="0" transform="translate(340.50 539.30) skewX(0.3) scale(1.065 1)" font-size="9.0" text-anchor="middle" fill="#231f20" font-weight="normal" >131</text>
<text x="0" y="0" transform="translate(366.06 539.30) skewX(0.3) scale(1.065 1)" font-size="9.0" text-anchor="middle" fill="#231f20" font-weight="normal" >118</text>
<text x="0" y="0" transform="translate(391.62 539.30) skewX(0.3) scale(1.065 1)" font-size="9.0" text-anchor="middle" fill="#231f20" font-weight="normal" >75</text>
<text x="0" y="0" transform="translate(417.18 539.30) skewX(0.3) scale(1.065 1)" font-size="9.0" text-anchor="middle" fill="#231f20" font-weight="normal" >66</text>
<text x="0" y="0" transform="translate(442.74 539.30) skewX(0.3) scale(1.065 1)" font-size="9.0" text-anchor="middle" fill="#231f20" font-weight="normal" >60</text>
<text x="0" y="0" transform="translate(468.30 539.30) skewX(0.3) scale(1.065 1)" font-size="9.0" text-anchor="middle" fill="#231f20" font-weight="normal" >41</text>
<text x="0" y="0" transform="translate(493.86 539.30) skewX(0.3) scale(1.065 1)" font-size="9.0" text-anchor="middle" fill="#231f20" font-weight="normal" >143</text>
<text x="0" y="0" transform="translate(11.3 577.6) skewX(0.3) scale(0.92 1)" font-size="18" font-weight="bold" fill="#000">C</text>
<rect x="69.0" y="577.8" width="440.0" height="138.0" fill="none" stroke="#000" stroke-width="2"/>
<line x1="64.0" y1="710.30" x2="69.0" y2="710.30" stroke="#000" stroke-width="1.5"/>
<text x="0" y="0" transform="translate(60.00 713.55) skewX(0.3) scale(1.0 1)" font-size="9.1" text-anchor="end" fill="#231f20" font-weight="normal" >0</text>
<line x1="64.0" y1="692.02" x2="69.0" y2="692.02" stroke="#000" stroke-width="1.5"/>
<text x="0" y="0" transform="translate(60.00 695.27) skewX(0.3) scale(1.0 1)" font-size="9.1" text-anchor="end" fill="#231f20" font-weight="normal" >1</text>
<line x1="64.0" y1="673.74" x2="69.0" y2="673.74" stroke="#000" stroke-width="1.5"/>
<text x="0" y="0" transform="translate(60.00 676.99) skewX(0.3) scale(1.0 1)" font-size="9.1" text-anchor="end" fill="#231f20" font-weight="normal" >2</text>
<line x1="64.0" y1="655.46" x2="69.0" y2="655.46" stroke="#000" stroke-width="1.5"/>
<text x="0" y="0" transform="translate(60.00 658.71) skewX(0.3) scale(1.0 1)" font-size="9.1" text-anchor="end" fill="#231f20" font-weight="normal" >3</text>
<line x1="64.0" y1="637.18" x2="69.0" y2="637.18" stroke="#000" stroke-width="1.5"/>
<text x="0" y="0" transform="translate(60.00 640.43) skewX(0.3) scale(1.0 1)" font-size="9.1" text-anchor="end" fill="#231f20" font-weight="normal" >4</text>
<line x1="64.0" y1="618.90" x2="69.0" y2="618.90" stroke="#000" stroke-width="1.5"/>
<text x="0" y="0" transform="translate(60.00 622.15) skewX(0.3) scale(1.0 1)" font-size="9.1" text-anchor="end" fill="#231f20" font-weight="normal" >5</text>
<line x1="64.0" y1="600.62" x2="69.0" y2="600.62" stroke="#000" stroke-width="1.5"/>
<text x="0" y="0" transform="translate(60.00 603.87) skewX(0.3) scale(1.0 1)" font-size="9.1" text-anchor="end" fill="#231f20" font-weight="normal" >6</text>
<line x1="64.0" y1="582.34" x2="69.0" y2="582.34" stroke="#000" stroke-width="1.5"/>
<text x="0" y="0" transform="translate(60.00 585.59) skewX(0.3) scale(1.0 1)" font-size="9.1" text-anchor="end" fill="#231f20" font-weight="normal" >7</text>
<line x1="85.50" y1="716.8" x2="85.50" y2="720.8" stroke="#000" stroke-width="1.6"/>
<line x1="110.97" y1="716.8" x2="110.97" y2="720.8" stroke="#000" stroke-width="1.6"/>
<line x1="136.44" y1="716.8" x2="136.44" y2="720.8" stroke="#000" stroke-width="1.6"/>
<line x1="161.91" y1="716.8" x2="161.91" y2="720.8" stroke="#000" stroke-width="1.6"/>
<line x1="187.38" y1="716.8" x2="187.38" y2="720.8" stroke="#000" stroke-width="1.6"/>
<line x1="212.85" y1="716.8" x2="212.85" y2="720.8" stroke="#000" stroke-width="1.6"/>
<line x1="238.32" y1="716.8" x2="238.32" y2="720.8" stroke="#000" stroke-width="1.6"/>
<line x1="263.79" y1="716.8" x2="263.79" y2="720.8" stroke="#000" stroke-width="1.6"/>
<line x1="289.26" y1="716.8" x2="289.26" y2="720.8" stroke="#000" stroke-width="1.6"/>
<line x1="314.73" y1="716.8" x2="314.73" y2="720.8" stroke="#000" stroke-width="1.6"/>
<line x1="340.20" y1="716.8" x2="340.20" y2="720.8" stroke="#000" stroke-width="1.6"/>
<line x1="365.67" y1="716.8" x2="365.67" y2="720.8" stroke="#000" stroke-width="1.6"/>
<line x1="391.14" y1="716.8" x2="391.14" y2="720.8" stroke="#000" stroke-width="1.6"/>
<line x1="416.61" y1="716.8" x2="416.61" y2="720.8" stroke="#000" stroke-width="1.6"/>
<line x1="442.08" y1="716.8" x2="442.08" y2="720.8" stroke="#000" stroke-width="1.6"/>
<line x1="467.55" y1="716.8" x2="467.55" y2="720.8" stroke="#000" stroke-width="1.6"/>
<line x1="493.02" y1="716.8" x2="493.02" y2="720.8" stroke="#000" stroke-width="1.6"/>
<text x="0" y="0" font-size="9.1" text-anchor="end" fill="#231f20" transform="translate(89.70 729.50) rotate(-45) scale(1.04 1)">1-5</text>
<text x="0" y="0" font-size="9.1" text-anchor="end" fill="#231f20" transform="translate(115.17 729.50) rotate(-45) scale(1.04 1)">6-10</text>
<text x="0" y="0" font-size="9.1" text-anchor="end" fill="#231f20" transform="translate(140.64 729.50) rotate(-45) scale(1.04 1)">11-15</text>
<text x="0" y="0" font-size="9.1" text-anchor="end" fill="#231f20" transform="translate(166.11 729.50) rotate(-45) scale(1.04 1)">16-20</text>
<text x="0" y="0" font-size="9.1" text-anchor="end" fill="#231f20" transform="translate(191.58 729.50) rotate(-45) scale(1.04 1)">21-25</text>
<text x="0" y="0" font-size="9.1" text-anchor="end" fill="#231f20" transform="translate(217.05 729.50) rotate(-45) scale(1.04 1)">26-30</text>
<text x="0" y="0" font-size="9.1" text-anchor="end" fill="#231f20" transform="translate(242.52 729.50) rotate(-45) scale(1.04 1)">31-35</text>
<text x="0" y="0" font-size="9.1" text-anchor="end" fill="#231f20" transform="translate(267.99 729.50) rotate(-45) scale(1.04 1)">36-40</text>
<text x="0" y="0" font-size="9.1" text-anchor="end" fill="#231f20" transform="translate(293.46 729.50) rotate(-45) scale(1.04 1)">41-45</text>
<text x="0" y="0" font-size="9.1" text-anchor="end" fill="#231f20" transform="translate(318.93 729.50) rotate(-45) scale(1.04 1)">46-50</text>
<text x="0" y="0" font-size="9.1" text-anchor="end" fill="#231f20" transform="translate(344.40 729.50) rotate(-45) scale(1.04 1)">51-55</text>
<text x="0" y="0" font-size="9.1" text-anchor="end" fill="#231f20" transform="translate(369.87 729.50) rotate(-45) scale(1.04 1)">56-60</text>
<text x="0" y="0" font-size="9.1" text-anchor="end" fill="#231f20" transform="translate(395.34 729.50) rotate(-45) scale(1.04 1)">61-65</text>
<text x="0" y="0" font-size="9.1" text-anchor="end" fill="#231f20" transform="translate(420.81 729.50) rotate(-45) scale(1.04 1)">66-70</text>
<text x="0" y="0" font-size="9.1" text-anchor="end" fill="#231f20" transform="translate(446.28 729.50) rotate(-45) scale(1.04 1)">71-75</text>
<text x="0" y="0" font-size="9.1" text-anchor="end" fill="#231f20" transform="translate(471.75 729.50) rotate(-45) scale(1.04 1)">76-80</text>
<text x="0" y="0" font-size="9.1" text-anchor="end" fill="#231f20" transform="translate(497.22 729.50) rotate(-45) scale(1.04 1)">≥ 81</text>
<text x="0" y="0" style="stroke-width:0.42px" font-size="12.6" text-anchor="middle" fill="#231f20" textLength="64" lengthAdjust="spacingAndGlyphs" transform="translate(46.80 646.70) rotate(-90) skewX(0.3)">OR (95% CI)</text>
<line x1="70.0" y1="692.02" x2="508.0" y2="692.02" stroke="#000" stroke-width="1.5" stroke-dasharray="3.5 1.5" stroke-dashoffset="2.7"/>
<path d="M85.50,598.61 V690.74 M81.10,598.61 H89.90 M81.10,690.74 H89.90" stroke="#60a83c" stroke-width="1.5" fill="none"/>
<path d="M110.97,664.97 V701.34 M106.57,664.97 H115.37 M106.57,701.34 H115.37" stroke="#4a2c70" stroke-width="1.5" fill="none"/>
<path d="M136.44,640.47 V696.77 M132.04,640.47 H140.84 M132.04,696.77 H140.84" stroke="#4a2c70" stroke-width="1.5" fill="none"/>
<path d="M161.91,634.07 V694.76 M157.51,634.07 H166.31 M157.51,694.76 H166.31" stroke="#4a2c70" stroke-width="1.5" fill="none"/>
<path d="M187.38,663.69 V701.34 M182.98,663.69 H191.78 M182.98,701.34 H191.78" stroke="#4a2c70" stroke-width="1.5" fill="none"/>
<path d="M212.85,658.93 V701.34 M208.45,658.93 H217.25 M208.45,701.34 H217.25" stroke="#4a2c70" stroke-width="1.5" fill="none"/>
<path d="M238.32,657.29 V699.70 M233.92,657.29 H242.72 M233.92,699.70 H242.72" stroke="#4a2c70" stroke-width="1.5" fill="none"/>
<path d="M263.79,668.99 V703.72 M259.39,668.99 H268.19 M259.39,703.72 H268.19" stroke="#4a2c70" stroke-width="1.5" fill="none"/>
<path d="M289.26,674.29 V703.35 M284.86,674.29 H293.66 M284.86,703.35 H293.66" stroke="#4a2c70" stroke-width="1.5" fill="none"/>
<path d="M314.73,659.48 V705.55 M310.33,659.48 H319.13 M310.33,705.55 H319.13" stroke="#4a2c70" stroke-width="1.5" fill="none"/>
<path d="M340.20,670.63 V703.72 M335.80,670.63 H344.60 M335.80,703.72 H344.60" stroke="#4a2c70" stroke-width="1.5" fill="none"/>
<path d="M365.67,646.14 V706.46 M361.27,646.14 H370.07 M361.27,706.46 H370.07" stroke="#4a2c70" stroke-width="1.5" fill="none"/>
<path d="M391.14,630.60 V710.30 M386.74,630.60 H395.54 M386.74,710.30 H395.54" stroke="#4a2c70" stroke-width="1.5" fill="none"/>
<path d="M416.61,637.91 V703.54 M412.21,637.91 H421.01 M412.21,703.54 H421.01" stroke="#4a2c70" stroke-width="1.5" fill="none"/>
<path d="M442.08,608.85 V706.46 M437.68,608.85 H446.48 M437.68,706.46 H446.48" stroke="#4a2c70" stroke-width="1.5" fill="none"/>
<path d="M467.55,641.75 V707.38 M463.15,641.75 H471.95 M463.15,707.38 H471.95" stroke="#4a2c70" stroke-width="1.5" fill="none"/>
<path d="M85.50,658.51 L89.30,665.09 L81.70,665.09 Z" fill="none" stroke="#60a83c" stroke-width="1.4" stroke-linejoin="miter"/>
<path d="M108.27,687.49 L113.67,692.89 M113.67,687.49 L108.27,692.89" stroke="#4a2c70" stroke-width="1.7"/>
<path d="M133.74,677.07 L139.14,682.47 M139.14,677.07 L133.74,682.47" stroke="#4a2c70" stroke-width="1.7"/>
<path d="M159.21,673.60 L164.61,679.00 M164.61,673.60 L159.21,679.00" stroke="#4a2c70" stroke-width="1.7"/>
<path d="M184.68,687.49 L190.08,692.89 M190.08,687.49 L184.68,692.89" stroke="#4a2c70" stroke-width="1.7"/>
<path d="M210.15,686.40 L215.55,691.80 M215.55,686.40 L210.15,691.80" stroke="#4a2c70" stroke-width="1.7"/>
<path d="M235.62,683.84 L241.02,689.24 M241.02,683.84 L235.62,689.24" stroke="#4a2c70" stroke-width="1.7"/>
<path d="M261.09,691.70 L266.49,697.10 M266.49,691.70 L261.09,697.10" stroke="#4a2c70" stroke-width="1.7"/>
<path d="M286.56,691.70 L291.96,697.10 M291.96,691.70 L286.56,697.10" stroke="#4a2c70" stroke-width="1.7"/>
<path d="M312.03,692.24 L317.43,697.64 M317.43,692.24 L312.03,697.64" stroke="#4a2c70" stroke-width="1.7"/>
<path d="M337.50,691.15 L342.90,696.55 M342.90,691.15 L337.50,696.55" stroke="#4a2c70" stroke-width="1.7"/>
<path d="M362.97,691.70 L368.37,697.10 M368.37,691.70 L362.97,697.10" stroke="#4a2c70" stroke-width="1.7"/>
<path d="M388.44,705.41 L393.84,710.81 M393.84,705.41 L388.44,710.81" stroke="#4a2c70" stroke-width="1.7"/>
<path d="M413.91,686.40 L419.31,691.80 M419.31,686.40 L413.91,691.80" stroke="#4a2c70" stroke-width="1.7"/>
<path d="M439.38,687.86 L444.78,693.26 M444.78,687.86 L439.38,693.26" stroke="#4a2c70" stroke-width="1.7"/>
<path d="M464.85,692.79 L470.25,698.19 M470.25,692.79 L464.85,698.19" stroke="#4a2c70" stroke-width="1.7"/>
<circle cx="493.02" cy="692.02" r="2.6" fill="#d9a030"/>
<text x="0" y="0" transform="translate(131.00 598.80) skewX(0.3) scale(1.14 1)" font-size="10.2" text-anchor="start" fill="#231f20" font-weight="normal" >P-Value:</text>
<path d="M191.20,591.76 L194.50,597.47 L187.90,597.47 Z" fill="none" stroke="#60a83c" stroke-width="1.8" stroke-linejoin="miter"/>
<text x="0" y="0" transform="translate(200.00 598.80) skewX(0.3) scale(1.02 1)" font-size="10.2" text-anchor="start" fill="#231f20" font-weight="normal" >&lt;0.05</text>
<path d="M246.10,592.90 L251.30,598.10 M251.30,592.90 L246.10,598.10" stroke="#3d2560" stroke-width="1.7"/>
<text x="0" y="0" transform="translate(256.70 598.80) skewX(0.3) scale(1.04 1)" font-size="10.2" text-anchor="start" fill="#231f20" font-weight="normal" >≥ 0.05</text>
<text x="0" y="0" transform="translate(208.3 768.00) skewX(0.3)" style="stroke-width:0.42px" font-size="12.9" fill="#231f20" textLength="160.5" lengthAdjust="spacingAndGlyphs">Morning platelet count (×10<tspan font-size="9.5" dy="-5">9</tspan><tspan dy="5">/L)</tspan></text>
<text x="0" y="0" transform="translate(30.00 792.10) skewX(0.3) scale(1.02 1)" font-size="9.4" text-anchor="start" fill="#231f20" font-weight="normal" >Days</text>
<text x="0" y="0" transform="translate(84.90 792.10) skewX(0.3) scale(1.065 1)" font-size="9.0" text-anchor="middle" fill="#231f20" font-weight="normal" >127</text>
<text x="0" y="0" transform="translate(110.46 792.10) skewX(0.3) scale(1.065 1)" font-size="9.0" text-anchor="middle" fill="#231f20" font-weight="normal" >632</text>
<text x="0" y="0" transform="translate(136.02 792.10) skewX(0.3) scale(1.065 1)" font-size="9.0" text-anchor="middle" fill="#231f20" font-weight="normal" >550</text>
<text x="0" y="0" transform="translate(161.58 792.10) skewX(0.3) scale(1.065 1)" font-size="9.0" text-anchor="middle" fill="#231f20" font-weight="normal" >479</text>
<text x="0" y="0" transform="translate(187.14 792.10) skewX(0.3) scale(1.065 1)" font-size="9.0" text-anchor="middle" fill="#231f20" font-weight="normal" >353</text>
<text x="0" y="0" transform="translate(212.70 792.10) skewX(0.3) scale(1.065 1)" font-size="9.0" text-anchor="middle" fill="#231f20" font-weight="normal" >265</text>
<text x="0" y="0" transform="translate(238.26 792.10) skewX(0.3) scale(1.065 1)" font-size="9.0" text-anchor="middle" fill="#231f20" font-weight="normal" >199</text>
<text x="0" y="0" transform="translate(263.82 792.10) skewX(0.3) scale(1.065 1)" font-size="9.0" text-anchor="middle" fill="#231f20" font-weight="normal" >137</text>
<text x="0" y="0" transform="translate(289.38 792.10) skewX(0.3) scale(1.065 1)" font-size="9.0" text-anchor="middle" fill="#231f20" font-weight="normal" >143</text>
<text x="0" y="0" transform="translate(314.94 792.10) skewX(0.3) scale(1.065 1)" font-size="9.0" text-anchor="middle" fill="#231f20" font-weight="normal" >90</text>
<text x="0" y="0" transform="translate(340.50 792.10) skewX(0.3) scale(1.065 1)" font-size="9.0" text-anchor="middle" fill="#231f20" font-weight="normal" >80</text>
<text x="0" y="0" transform="translate(366.06 792.10) skewX(0.3) scale(1.065 1)" font-size="9.0" text-anchor="middle" fill="#231f20" font-weight="normal" >59</text>
<text x="0" y="0" transform="translate(391.62 792.10) skewX(0.3) scale(1.065 1)" font-size="9.0" text-anchor="middle" fill="#231f20" font-weight="normal" >57</text>
<text x="0" y="0" transform="translate(417.18 792.10) skewX(0.3) scale(1.065 1)" font-size="9.0" text-anchor="middle" fill="#231f20" font-weight="normal" >48</text>
<text x="0" y="0" transform="translate(442.74 792.10) skewX(0.3) scale(1.065 1)" font-size="9.0" text-anchor="middle" fill="#231f20" font-weight="normal" >39</text>
<text x="0" y="0" transform="translate(468.30 792.10) skewX(0.3) scale(1.065 1)" font-size="9.0" text-anchor="middle" fill="#231f20" font-weight="normal" >28</text>
<text x="0" y="0" transform="translate(493.86 792.10) skewX(0.3) scale(1.065 1)" font-size="9.0" text-anchor="middle" fill="#231f20" font-weight="normal" >116</text>
<text x="0" y="0" transform="translate(30.00 808.60) skewX(0.3) scale(1.02 1)" font-size="9.4" text-anchor="start" fill="#231f20" font-weight="normal" >Patients</text>
<text x="0" y="0" transform="translate(84.90 808.60) skewX(0.3) scale(1.065 1)" font-size="9.0" text-anchor="middle" fill="#231f20" font-weight="normal" >89</text>
<text x="0" y="0" transform="translate(110.46 808.60) skewX(0.3) scale(1.065 1)" font-size="9.0" text-anchor="middle" fill="#231f20" font-weight="normal" >309</text>
<text x="0" y="0" transform="translate(136.02 808.60) skewX(0.3) scale(1.065 1)" font-size="9.0" text-anchor="middle" fill="#231f20" font-weight="normal" >246</text>
<text x="0" y="0" transform="translate(161.58 808.60) skewX(0.3) scale(1.065 1)" font-size="9.0" text-anchor="middle" fill="#231f20" font-weight="normal" >248</text>
<text x="0" y="0" transform="translate(187.14 808.60) skewX(0.3) scale(1.065 1)" font-size="9.0" text-anchor="middle" fill="#231f20" font-weight="normal" >211</text>
<text x="0" y="0" transform="translate(212.70 808.60) skewX(0.3) scale(1.065 1)" font-size="9.0" text-anchor="middle" fill="#231f20" font-weight="normal" >179</text>
<text x="0" y="0" transform="translate(238.26 808.60) skewX(0.3) scale(1.065 1)" font-size="9.0" text-anchor="middle" fill="#231f20" font-weight="normal" >151</text>
<text x="0" y="0" transform="translate(263.82 808.60) skewX(0.3) scale(1.065 1)" font-size="9.0" text-anchor="middle" fill="#231f20" font-weight="normal" >103</text>
<text x="0" y="0" transform="translate(289.38 808.60) skewX(0.3) scale(1.065 1)" font-size="9.0" text-anchor="middle" fill="#231f20" font-weight="normal" >108</text>
<text x="0" y="0" transform="translate(314.94 808.60) skewX(0.3) scale(1.065 1)" font-size="9.0" text-anchor="middle" fill="#231f20" font-weight="normal" >78</text>
<text x="0" y="0" transform="translate(340.50 808.60) skewX(0.3) scale(1.065 1)" font-size="9.0" text-anchor="middle" fill="#231f20" font-weight="normal" >65</text>
<text x="0" y="0" transform="translate(366.06 808.60) skewX(0.3) scale(1.065 1)" font-size="9.0" text-anchor="middle" fill="#231f20" font-weight="normal" >49</text>
<text x="0" y="0" transform="translate(391.62 808.60) skewX(0.3) scale(1.065 1)" font-size="9.0" text-anchor="middle" fill="#231f20" font-weight="normal" >55</text>
<text x="0" y="0" transform="translate(417.18 808.60) skewX(0.3) scale(1.065 1)" font-size="9.0" text-anchor="middle" fill="#231f20" font-weight="normal" >42</text>
<text x="0" y="0" transform="translate(442.74 808.60) skewX(0.3) scale(1.065 1)" font-size="9.0" text-anchor="middle" fill="#231f20" font-weight="normal" >31</text>
<text x="0" y="0" transform="translate(468.30 808.60) skewX(0.3) scale(1.065 1)" font-size="9.0" text-anchor="middle" fill="#231f20" font-weight="normal" >25</text>
<text x="0" y="0" transform="translate(493.86 808.60) skewX(0.3) scale(1.065 1)" font-size="9.0" text-anchor="middle" fill="#231f20" font-weight="normal" >58</text>
<text x="0" y="0" transform="translate(11.3 839.8) skewX(0.3) scale(0.92 1)" font-size="18" font-weight="bold" fill="#000">D</text>
<rect x="69.0" y="839.2" width="440.0" height="137.69999999999993" fill="none" stroke="#000" stroke-width="2"/>
<line x1="64.0" y1="972.40" x2="69.0" y2="972.40" stroke="#000" stroke-width="1.5"/>
<text x="0" y="0" transform="translate(60.00 975.65) skewX(0.3) scale(1.0 1)" font-size="9.1" text-anchor="end" fill="#231f20" font-weight="normal" >0</text>
<line x1="64.0" y1="948.46" x2="69.0" y2="948.46" stroke="#000" stroke-width="1.5"/>
<text x="0" y="0" transform="translate(60.00 951.71) skewX(0.3) scale(1.0 1)" font-size="9.1" text-anchor="end" fill="#231f20" font-weight="normal" >3</text>
<line x1="64.0" y1="924.52" x2="69.0" y2="924.52" stroke="#000" stroke-width="1.5"/>
<text x="0" y="0" transform="translate(60.00 927.77) skewX(0.3) scale(1.0 1)" font-size="9.1" text-anchor="end" fill="#231f20" font-weight="normal" >6</text>
<line x1="64.0" y1="900.58" x2="69.0" y2="900.58" stroke="#000" stroke-width="1.5"/>
<text x="0" y="0" transform="translate(60.00 903.83) skewX(0.3) scale(1.0 1)" font-size="9.1" text-anchor="end" fill="#231f20" font-weight="normal" >9</text>
<line x1="64.0" y1="876.64" x2="69.0" y2="876.64" stroke="#000" stroke-width="1.5"/>
<text x="0" y="0" transform="translate(60.00 879.89) skewX(0.3) scale(1.0 1)" font-size="9.1" text-anchor="end" fill="#231f20" font-weight="normal" >12</text>
<line x1="64.0" y1="852.70" x2="69.0" y2="852.70" stroke="#000" stroke-width="1.5"/>
<text x="0" y="0" transform="translate(60.00 855.95) skewX(0.3) scale(1.0 1)" font-size="9.1" text-anchor="end" fill="#231f20" font-weight="normal" >15</text>
<line x1="85.50" y1="977.9" x2="85.50" y2="981.9" stroke="#000" stroke-width="1.6"/>
<line x1="110.97" y1="977.9" x2="110.97" y2="981.9" stroke="#000" stroke-width="1.6"/>
<line x1="136.44" y1="977.9" x2="136.44" y2="981.9" stroke="#000" stroke-width="1.6"/>
<line x1="161.91" y1="977.9" x2="161.91" y2="981.9" stroke="#000" stroke-width="1.6"/>
<line x1="187.38" y1="977.9" x2="187.38" y2="981.9" stroke="#000" stroke-width="1.6"/>
<line x1="212.85" y1="977.9" x2="212.85" y2="981.9" stroke="#000" stroke-width="1.6"/>
<line x1="238.32" y1="977.9" x2="238.32" y2="981.9" stroke="#000" stroke-width="1.6"/>
<line x1="263.79" y1="977.9" x2="263.79" y2="981.9" stroke="#000" stroke-width="1.6"/>
<line x1="289.26" y1="977.9" x2="289.26" y2="981.9" stroke="#000" stroke-width="1.6"/>
<line x1="314.73" y1="977.9" x2="314.73" y2="981.9" stroke="#000" stroke-width="1.6"/>
<line x1="340.20" y1="977.9" x2="340.20" y2="981.9" stroke="#000" stroke-width="1.6"/>
<line x1="365.67" y1="977.9" x2="365.67" y2="981.9" stroke="#000" stroke-width="1.6"/>
<line x1="391.14" y1="977.9" x2="391.14" y2="981.9" stroke="#000" stroke-width="1.6"/>
<line x1="416.61" y1="977.9" x2="416.61" y2="981.9" stroke="#000" stroke-width="1.6"/>
<line x1="442.08" y1="977.9" x2="442.08" y2="981.9" stroke="#000" stroke-width="1.6"/>
<line x1="467.55" y1="977.9" x2="467.55" y2="981.9" stroke="#000" stroke-width="1.6"/>
<line x1="493.02" y1="977.9" x2="493.02" y2="981.9" stroke="#000" stroke-width="1.6"/>
<text x="0" y="0" font-size="9.1" text-anchor="end" fill="#231f20" transform="translate(89.70 990.60) rotate(-45) scale(1.04 1)">1-5</text>
<text x="0" y="0" font-size="9.1" text-anchor="end" fill="#231f20" transform="translate(115.17 990.60) rotate(-45) scale(1.04 1)">6-10</text>
<text x="0" y="0" font-size="9.1" text-anchor="end" fill="#231f20" transform="translate(140.64 990.60) rotate(-45) scale(1.04 1)">11-15</text>
<text x="0" y="0" font-size="9.1" text-anchor="end" fill="#231f20" transform="translate(166.11 990.60) rotate(-45) scale(1.04 1)">16-20</text>
<text x="0" y="0" font-size="9.1" text-anchor="end" fill="#231f20" transform="translate(191.58 990.60) rotate(-45) scale(1.04 1)">21-25</text>
<text x="0" y="0" font-size="9.1" text-anchor="end" fill="#231f20" transform="translate(217.05 990.60) rotate(-45) scale(1.04 1)">26-30</text>
<text x="0" y="0" font-size="9.1" text-anchor="end" fill="#231f20" transform="translate(242.52 990.60) rotate(-45) scale(1.04 1)">31-35</text>
<text x="0" y="0" font-size="9.1" text-anchor="end" fill="#231f20" transform="translate(267.99 990.60) rotate(-45) scale(1.04 1)">36-40</text>
<text x="0" y="0" font-size="9.1" text-anchor="end" fill="#231f20" transform="translate(293.46 990.60) rotate(-45) scale(1.04 1)">41-45</text>
<text x="0" y="0" font-size="9.1" text-anchor="end" fill="#231f20" transform="translate(318.93 990.60) rotate(-45) scale(1.04 1)">46-50</text>
<text x="0" y="0" font-size="9.1" text-anchor="end" fill="#231f20" transform="translate(344.40 990.60) rotate(-45) scale(1.04 1)">51-55</text>
<text x="0" y="0" font-size="9.1" text-anchor="end" fill="#231f20" transform="translate(369.87 990.60) rotate(-45) scale(1.04 1)">56-60</text>
<text x="0" y="0" font-size="9.1" text-anchor="end" fill="#231f20" transform="translate(395.34 990.60) rotate(-45) scale(1.04 1)">61-65</text>
<text x="0" y="0" font-size="9.1" text-anchor="end" fill="#231f20" transform="translate(420.81 990.60) rotate(-45) scale(1.04 1)">66-70</text>
<text x="0" y="0" font-size="9.1" text-anchor="end" fill="#231f20" transform="translate(446.28 990.60) rotate(-45) scale(1.04 1)">71-75</text>
<text x="0" y="0" font-size="9.1" text-anchor="end" fill="#231f20" transform="translate(471.75 990.60) rotate(-45) scale(1.04 1)">76-80</text>
<text x="0" y="0" font-size="9.1" text-anchor="end" fill="#231f20" transform="translate(497.22 990.60) rotate(-45) scale(1.04 1)">≥ 81</text>
<text x="0" y="0" style="stroke-width:0.42px" font-size="12.6" text-anchor="middle" fill="#231f20" textLength="64" lengthAdjust="spacingAndGlyphs" transform="translate(39.70 908.40) rotate(-90) skewX(0.3)">OR (95% CI)</text>
<line x1="70.0" y1="964.42" x2="508.0" y2="964.42" stroke="#000" stroke-width="1.5" stroke-dasharray="3.5 1.5" stroke-dashoffset="2.7"/>
<path d="M85.50,852.54 V957.08 M81.10,852.54 H89.90 M81.10,957.08 H89.90" stroke="#324b82" stroke-width="1.5" fill="none"/>
<path d="M110.97,907.92 V961.95 M106.57,907.92 H115.37 M106.57,961.95 H115.37" stroke="#60a83c" stroke-width="1.5" fill="none"/>
<path d="M136.44,907.92 V961.95 M132.04,907.92 H140.84 M132.04,961.95 H140.84" stroke="#60a83c" stroke-width="1.5" fill="none"/>
<path d="M161.91,912.87 V962.98 M157.51,912.87 H166.31 M157.51,962.98 H166.31" stroke="#60a83c" stroke-width="1.5" fill="none"/>
<path d="M187.38,921.73 V964.42 M182.98,921.73 H191.78 M182.98,964.42 H191.78" stroke="#60a83c" stroke-width="1.5" fill="none"/>
<path d="M212.85,917.26 V963.38 M208.45,917.26 H217.25 M208.45,963.38 H217.25" stroke="#60a83c" stroke-width="1.5" fill="none"/>
<path d="M238.32,923.16 V965.06 M233.92,923.16 H242.72 M233.92,965.06 H242.72" stroke="#4a2c70" stroke-width="1.5" fill="none"/>
<path d="M263.79,912.87 V962.98 M259.39,912.87 H268.19 M259.39,962.98 H268.19" stroke="#60a83c" stroke-width="1.5" fill="none"/>
<path d="M289.26,906.25 V961.47 M284.86,906.25 H293.66 M284.86,961.47 H293.66" stroke="#324b82" stroke-width="1.5" fill="none"/>
<path d="M314.73,929.79 V966.18 M310.33,929.79 H319.13 M310.33,966.18 H319.13" stroke="#4a2c70" stroke-width="1.5" fill="none"/>
<path d="M340.20,893.16 V959.79 M335.80,893.16 H344.60 M335.80,959.79 H344.60" stroke="#324b82" stroke-width="1.5" fill="none"/>
<path d="M365.67,915.74 V965.06 M361.27,915.74 H370.07 M361.27,965.06 H370.07" stroke="#4a2c70" stroke-width="1.5" fill="none"/>
<path d="M391.14,921.81 V966.97 M386.74,921.81 H395.54 M386.74,966.97 H395.54" stroke="#4a2c70" stroke-width="1.5" fill="none"/>
<path d="M416.61,894.44 V963.06 M412.21,894.44 H421.01 M412.21,963.06 H421.01" stroke="#60a83c" stroke-width="1.5" fill="none"/>
<path d="M442.08,907.04 V968.33 M437.68,907.04 H446.48 M437.68,968.33 H446.48" stroke="#4a2c70" stroke-width="1.5" fill="none"/>
<path d="M467.55,895.31 V967.29 M463.15,895.31 H471.95 M463.15,967.29 H471.95" stroke="#4a2c70" stroke-width="1.5" fill="none"/>
<circle cx="85.50" cy="929.79" r="2.3" fill="#aebcd6" stroke="#324b82" stroke-width="1.7"/>
<path d="M110.97,941.99 L114.77,948.57 L107.17,948.57 Z" fill="none" stroke="#60a83c" stroke-width="1.4" stroke-linejoin="miter"/>
<path d="M136.44,941.99 L140.24,948.57 L132.64,948.57 Z" fill="none" stroke="#60a83c" stroke-width="1.4" stroke-linejoin="miter"/>
<path d="M161.91,944.06 L165.71,950.64 L158.11,950.64 Z" fill="none" stroke="#60a83c" stroke-width="1.4" stroke-linejoin="miter"/>
<path d="M187.38,946.85 L191.18,953.43 L183.58,953.43 Z" fill="none" stroke="#60a83c" stroke-width="1.4" stroke-linejoin="miter"/>
<path d="M212.85,945.58 L216.65,952.16 L209.05,952.16 Z" fill="none" stroke="#60a83c" stroke-width="1.4" stroke-linejoin="miter"/>
<path d="M235.62,950.79 L241.02,956.19 M241.02,950.79 L235.62,956.19" stroke="#4a2c70" stroke-width="1.7"/>
<path d="M263.79,944.06 L267.59,950.64 L259.99,950.64 Z" fill="none" stroke="#60a83c" stroke-width="1.4" stroke-linejoin="miter"/>
<circle cx="289.26" cy="946.07" r="2.3" fill="#aebcd6" stroke="#324b82" stroke-width="1.7"/>
<path d="M312.03,953.98 L317.43,959.38 M317.43,953.98 L312.03,959.38" stroke="#4a2c70" stroke-width="1.7"/>
<circle cx="340.20" cy="941.36" r="2.3" fill="#aebcd6" stroke="#324b82" stroke-width="1.7"/>
<path d="M362.97,950.79 L368.37,956.19 M368.37,950.79 L362.97,956.19" stroke="#4a2c70" stroke-width="1.7"/>
<path d="M388.44,953.98 L393.84,959.38 M393.84,953.98 L388.44,959.38" stroke="#4a2c70" stroke-width="1.7"/>
<path d="M416.61,940.55 L420.41,947.13 L412.81,947.13 Z" fill="none" stroke="#60a83c" stroke-width="1.4" stroke-linejoin="miter"/>
<path d="M439.38,954.54 L444.78,959.94 M444.78,954.54 L439.38,959.94" stroke="#4a2c70" stroke-width="1.7"/>
<path d="M464.85,950.63 L470.25,956.03 M470.25,950.63 L464.85,956.03" stroke="#4a2c70" stroke-width="1.7"/>
<circle cx="493.02" cy="964.42" r="2.6" fill="#d9a030"/>
<text x="0" y="0" transform="translate(131.30 860.30) skewX(0.3) scale(1.04 1)" font-size="9.3" text-anchor="start" fill="#231f20" font-weight="normal" >P-Value:</text>
<circle cx="190.50" cy="858.10" r="2.3" fill="none" stroke="#324b82" stroke-width="1.7"/>
<text x="0" y="0" transform="translate(198.20 860.30) skewX(0.3) scale(0.99 1)" font-size="9.3" text-anchor="start" fill="#231f20" font-weight="normal" >&lt;0.01</text>
<path d="M249.80,854.36 L253.10,860.07 L246.50,860.07 Z" fill="none" stroke="#60a83c" stroke-width="1.8" stroke-linejoin="miter"/>
<text x="0" y="0" transform="translate(258.30 860.30) skewX(0.3) scale(1.0 1)" font-size="9.3" text-anchor="start" fill="#231f20" font-weight="normal" >&lt;0.05</text>
<path d="M294.90,855.10 L300.10,860.30 M300.10,855.10 L294.90,860.30" stroke="#3d2560" stroke-width="1.7"/>
<text x="0" y="0" transform="translate(304.70 860.30) skewX(0.3) scale(1.0 1)" font-size="9.3" text-anchor="start" fill="#231f20" font-weight="normal" >≥ 0.05</text>
<text x="0" y="0" transform="translate(208.3 1030.30) skewX(0.3)" style="stroke-width:0.42px" font-size="12.9" fill="#231f20" textLength="160.5" lengthAdjust="spacingAndGlyphs">Morning platelet count (×10<tspan font-size="9.5" dy="-5">9</tspan><tspan dy="5">/L)</tspan></text>
<text x="0" y="0" transform="translate(30.00 1053.60) skewX(0.3) scale(1.02 1)" font-size="9.4" text-anchor="start" fill="#231f20" font-weight="normal" >Days</text>
<text x="0" y="0" transform="translate(84.90 1053.60) skewX(0.3) scale(1.065 1)" font-size="9.0" text-anchor="middle" fill="#231f20" font-weight="normal" >245</text>
<text x="0" y="0" transform="translate(110.46 1053.60) skewX(0.3) scale(1.065 1)" font-size="9.0" text-anchor="middle" fill="#231f20" font-weight="normal" >1076</text>
<text x="0" y="0" transform="translate(136.02 1053.60) skewX(0.3) scale(1.065 1)" font-size="9.0" text-anchor="middle" fill="#231f20" font-weight="normal" >967</text>
<text x="0" y="0" transform="translate(161.58 1053.60) skewX(0.3) scale(1.065 1)" font-size="9.0" text-anchor="middle" fill="#231f20" font-weight="normal" >730</text>
<text x="0" y="0" transform="translate(187.14 1053.60) skewX(0.3) scale(1.065 1)" font-size="9.0" text-anchor="middle" fill="#231f20" font-weight="normal" >522</text>
<text x="0" y="0" transform="translate(212.70 1053.60) skewX(0.3) scale(1.065 1)" font-size="9.0" text-anchor="middle" fill="#231f20" font-weight="normal" >425</text>
<text x="0" y="0" transform="translate(238.26 1053.60) skewX(0.3) scale(1.065 1)" font-size="9.0" text-anchor="middle" fill="#231f20" font-weight="normal" >284</text>
<text x="0" y="0" transform="translate(263.82 1053.60) skewX(0.3) scale(1.065 1)" font-size="9.0" text-anchor="middle" fill="#231f20" font-weight="normal" >227</text>
<text x="0" y="0" transform="translate(289.38 1053.60) skewX(0.3) scale(1.065 1)" font-size="9.0" text-anchor="middle" fill="#231f20" font-weight="normal" >193</text>
<text x="0" y="0" transform="translate(314.94 1053.60) skewX(0.3) scale(1.065 1)" font-size="9.0" text-anchor="middle" fill="#231f20" font-weight="normal" >155</text>
<text x="0" y="0" transform="translate(340.50 1053.60) skewX(0.3) scale(1.065 1)" font-size="9.0" text-anchor="middle" fill="#231f20" font-weight="normal" >120</text>
<text x="0" y="0" transform="translate(366.06 1053.60) skewX(0.3) scale(1.065 1)" font-size="9.0" text-anchor="middle" fill="#231f20" font-weight="normal" >92</text>
<text x="0" y="0" transform="translate(391.62 1053.60) skewX(0.3) scale(1.065 1)" font-size="9.0" text-anchor="middle" fill="#231f20" font-weight="normal" >91</text>
<text x="0" y="0" transform="translate(417.18 1053.60) skewX(0.3) scale(1.065 1)" font-size="9.0" text-anchor="middle" fill="#231f20" font-weight="normal" >63</text>
<text x="0" y="0" transform="translate(442.74 1053.60) skewX(0.3) scale(1.065 1)" font-size="9.0" text-anchor="middle" fill="#231f20" font-weight="normal" >46</text>
<text x="0" y="0" transform="translate(468.30 1053.60) skewX(0.3) scale(1.065 1)" font-size="9.0" text-anchor="middle" fill="#231f20" font-weight="normal" >42</text>
<text x="0" y="0" transform="translate(493.86 1053.60) skewX(0.3) scale(1.065 1)" font-size="9.0" text-anchor="middle" fill="#231f20" font-weight="normal" >365</text>
<text x="0" y="0" transform="translate(30.00 1069.80) skewX(0.3) scale(1.02 1)" font-size="9.4" text-anchor="start" fill="#231f20" font-weight="normal" >Patients</text>
<text x="0" y="0" transform="translate(84.90 1069.80) skewX(0.3) scale(1.065 1)" font-size="9.0" text-anchor="middle" fill="#231f20" font-weight="normal" >121</text>
<text x="0" y="0" transform="translate(110.46 1069.80) skewX(0.3) scale(1.065 1)" font-size="9.0" text-anchor="middle" fill="#231f20" font-weight="normal" >264</text>
<text x="0" y="0" transform="translate(136.02 1069.80) skewX(0.3) scale(1.065 1)" font-size="9.0" text-anchor="middle" fill="#231f20" font-weight="normal" >247</text>
<text x="0" y="0" transform="translate(161.58 1069.80) skewX(0.3) scale(1.065 1)" font-size="9.0" text-anchor="middle" fill="#231f20" font-weight="normal" >244</text>
<text x="0" y="0" transform="translate(187.14 1069.80) skewX(0.3) scale(1.065 1)" font-size="9.0" text-anchor="middle" fill="#231f20" font-weight="normal" >225</text>
<text x="0" y="0" transform="translate(212.70 1069.80) skewX(0.3) scale(1.065 1)" font-size="9.0" text-anchor="middle" fill="#231f20" font-weight="normal" >210</text>
<text x="0" y="0" transform="translate(238.26 1069.80) skewX(0.3) scale(1.065 1)" font-size="9.0" text-anchor="middle" fill="#231f20" font-weight="normal" >163</text>
<text x="0" y="0" transform="translate(263.82 1069.80) skewX(0.3) scale(1.065 1)" font-size="9.0" text-anchor="middle" fill="#231f20" font-weight="normal" >139</text>
<text x="0" y="0" transform="translate(289.38 1069.80) skewX(0.3) scale(1.065 1)" font-size="9.0" text-anchor="middle" fill="#231f20" font-weight="normal" >123</text>
<text x="0" y="0" transform="translate(314.94 1069.80) skewX(0.3) scale(1.065 1)" font-size="9.0" text-anchor="middle" fill="#231f20" font-weight="normal" >106</text>
<text x="0" y="0" transform="translate(340.50 1069.80) skewX(0.3) scale(1.065 1)" font-size="9.0" text-anchor="middle" fill="#231f20" font-weight="normal" >77</text>
<text x="0" y="0" transform="translate(366.06 1069.80) skewX(0.3) scale(1.065 1)" font-size="9.0" text-anchor="middle" fill="#231f20" font-weight="normal" >74</text>
<text x="0" y="0" transform="translate(391.62 1069.80) skewX(0.3) scale(1.065 1)" font-size="9.0" text-anchor="middle" fill="#231f20" font-weight="normal" >70</text>
<text x="0" y="0" transform="translate(417.18 1069.80) skewX(0.3) scale(1.065 1)" font-size="9.0" text-anchor="middle" fill="#231f20" font-weight="normal" >52</text>
<text x="0" y="0" transform="translate(442.74 1069.80) skewX(0.3) scale(1.065 1)" font-size="9.0" text-anchor="middle" fill="#231f20" font-weight="normal" >41</text>
<text x="0" y="0" transform="translate(468.30 1069.80) skewX(0.3) scale(1.065 1)" font-size="9.0" text-anchor="middle" fill="#231f20" font-weight="normal" >32</text>
<text x="0" y="0" transform="translate(493.86 1069.80) skewX(0.3) scale(1.065 1)" font-size="9.0" text-anchor="middle" fill="#231f20" font-weight="normal" >121</text>
<path d="M1,1 H519 V1080 H1 Z" fill="none" stroke="#000" stroke-width="2"/>
</svg>
</body></html>
